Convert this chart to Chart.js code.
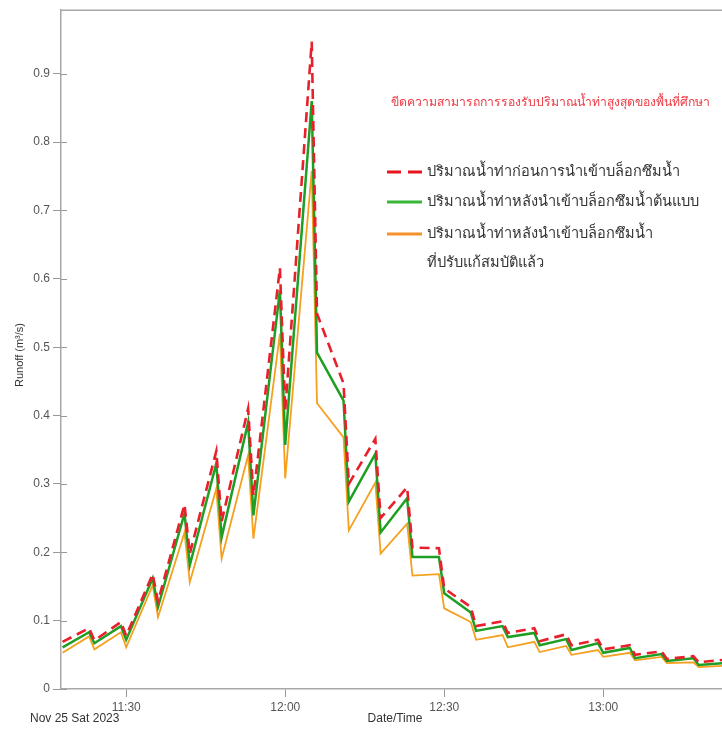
<!DOCTYPE html>
<html>
<head>
<meta charset="utf-8">
<script src="https://cdn.jsdelivr.net/npm/chart.js@4.4.0/dist/chart.umd.min.js"></script>
<style>
  html, body { margin: 0; padding: 0; background: #fff; }
  #wrap { width: 722px; height: 729px; position: relative; }
</style>
</head>
<body>
<div id="wrap"><canvas id="c" width="722" height="729"></canvas></div>
<script>
// Time in minutes relative to 11:30 on Nov 25 2023
const minutes = [-12, -7, -6, -1, 0, 5, 6, 11, 12, 17, 18, 23, 24, 29, 30, 35, 36, 41, 42, 47, 48,
  53, 54, 59, 60, 65, 66, 71, 72, 77, 78, 83, 84, 89, 90, 95, 96, 101, 102, 107, 108, 113];

// Runoff (m3/s) before installing infiltration blocks
const runoffBefore = [0.069, 0.089, 0.071, 0.098, 0.078, 0.168, 0.128, 0.270, 0.198, 0.348, 0.245,
  0.410, 0.283, 0.616, 0.407, 0.947, 0.549, 0.447, 0.300, 0.366, 0.250,
  0.295, 0.207, 0.206, 0.147, 0.120, 0.092, 0.099, 0.082, 0.089, 0.070, 0.080, 0.064,
  0.072, 0.058, 0.064, 0.050, 0.055, 0.044, 0.048, 0.039, 0.043];

// Runoff after installing the prototype infiltration blocks
const runoffPrototype = [0.061, 0.083, 0.067, 0.092, 0.072, 0.162, 0.120, 0.257, 0.181, 0.330, 0.222,
  0.390, 0.254, 0.583, 0.357, 0.860, 0.492, 0.422, 0.274, 0.344, 0.229,
  0.279, 0.193, 0.193, 0.140, 0.112, 0.085, 0.092, 0.076, 0.082, 0.064, 0.073, 0.057,
  0.067, 0.053, 0.060, 0.045, 0.051, 0.041, 0.045, 0.035, 0.038];

// Runoff after installing the improved infiltration blocks
const runoffAdjusted = [0.053, 0.077, 0.058, 0.083, 0.061, 0.152, 0.105, 0.229, 0.156, 0.293, 0.191,
  0.342, 0.220, 0.520, 0.308, 0.758, 0.418, 0.368, 0.232, 0.302, 0.198,
  0.242, 0.166, 0.168, 0.118, 0.098, 0.072, 0.079, 0.061, 0.069, 0.054, 0.063, 0.050,
  0.057, 0.047, 0.053, 0.042, 0.047, 0.038, 0.039, 0.032, 0.034];

const timeTicks = [0, 30, 60, 90];
const runoffTicks = [0, 0.1, 0.2, 0.3, 0.4, 0.5, 0.6, 0.7, 0.8, 0.9];

const seriesLabels = [
  ['ปริมาณน้ำท่าก่อนการนำเข้าบล็อกซึมน้ำ'],
  ['ปริมาณน้ำท่าหลังนำเข้าบล็อกซึมน้ำต้นแบบ'],
  ['ปริมาณน้ำท่าหลังนำเข้าบล็อกซึมน้ำ', 'ที่ปรับแก้สมบัติแล้ว']
];
const capacityNote = 'ขีดความสามารถการรองรับปริมาณน้ำท่าสูงสุดของพื้นที่ศึกษา';
const dateLabel = 'Nov 25 Sat 2023';
const xTitle = 'Date/Time';
const yTitle = 'Runoff (m³/s)';

const COLORS = { before: '#e8202c', proto: '#1f9e24', adjusted: '#f5a01e' };
const KEY_COLORS = { before: '#e8141e', proto: '#37b637', adjusted: '#f5922a' };
const FONT = '"Liberation Sans", Arial, sans-serif';

const toPoints = vals => minutes.map((m, i) => ({ x: m, y: vals[i] }));

function clockLabel(m) {
  const total = 11 * 60 + 30 + m;
  const h = Math.floor(total / 60), mm = total % 60;
  return h + ':' + String(mm).padStart(2, '0');
}

// font size that makes a text span a given width
function fittedSize(ctx, text, width, base) {
  ctx.font = base + 'px ' + FONT;
  return base * width / ctx.measureText(text).width;
}

// Frame line, inner y tick marks, axis titles, note text and the legend
const decorations = {
  id: 'decorations',
  afterDraw(chart) {
    const { ctx, chartArea: a } = chart;
    const yScale = chart.scales.y;
    ctx.save();
    ctx.strokeStyle = '#a8a8a8';
    ctx.lineWidth = 1.5;
    ctx.beginPath();
    ctx.moveTo(a.left, a.top);
    ctx.lineTo(a.right, a.top);
    ctx.stroke();

    ctx.strokeStyle = '#999';
    ctx.lineWidth = 1;
    ctx.beginPath();
    runoffTicks.forEach(v => {
      const py = Math.round(yScale.getPixelForValue(v)) + 0.5;
      ctx.moveTo(a.left, py);
      ctx.lineTo(a.left + 6, py);
    });
    ctx.stroke();

    ctx.fillStyle = '#333';
    ctx.font = '11px ' + FONT;
    ctx.textAlign = 'center';
    ctx.textBaseline = 'middle';
    ctx.save();
    ctx.translate(20, 355);
    ctx.rotate(-Math.PI / 2);
    ctx.fillText(yTitle, 0, 0);
    ctx.restore();

    ctx.font = '12px ' + FONT;
    ctx.fillText(xTitle, 395, 719);
    ctx.textAlign = 'left';
    ctx.fillText(dateLabel, 30, 719);

    ctx.fillStyle = '#ee3a44';
    const noteSize = fittedSize(ctx, capacityNote, 319, 13);
    ctx.font = noteSize.toFixed(2) + 'px ' + FONT;
    ctx.fillText(capacityNote, 391, 103);

    const rows = [
      { color: KEY_COLORS.before, dash: [14, 7], y: 172, lines: seriesLabels[0] },
      { color: KEY_COLORS.proto, dash: [], y: 202, lines: seriesLabels[1] },
      { color: KEY_COLORS.adjusted, dash: [], y: 234, lines: seriesLabels[2] }
    ];
    const keySize = fittedSize(ctx, seriesLabels[0][0], 248, 15);
    ctx.font = keySize.toFixed(2) + 'px ' + FONT;
    rows.forEach(r => {
      ctx.strokeStyle = r.color;
      ctx.lineWidth = 3;
      ctx.setLineDash(r.dash);
      ctx.beginPath();
      ctx.moveTo(387, r.y);
      ctx.lineTo(422, r.y);
      ctx.stroke();
      ctx.setLineDash([]);
      ctx.fillStyle = '#333';
      r.lines.forEach((t, k) => ctx.fillText(t, 427, r.y + k * 29));
    });
    ctx.restore();
  }
};

new Chart(document.getElementById('c'), {
  type: 'line',
  data: {
    datasets: [
      { label: seriesLabels[0].join(' '), data: toPoints(runoffBefore), borderColor: COLORS.before,
        borderWidth: 2.6, borderDash: [10, 6], order: 1 },
      { label: seriesLabels[1].join(' '), data: toPoints(runoffPrototype), borderColor: COLORS.proto,
        borderWidth: 2.5, order: 2 },
      { label: seriesLabels[2].join(' '), data: toPoints(runoffAdjusted), borderColor: COLORS.adjusted,
        borderWidth: 1.8, order: 3 }
    ]
  },
  options: {
    responsive: false,
    animation: false,
    devicePixelRatio: 1,
    layout: { padding: { top: 9, right: 0, left: 0, bottom: 0 } },
    elements: { point: { radius: 0 }, line: { tension: 0, fill: false } },
    plugins: { legend: { display: false }, tooltip: { enabled: false } },
    scales: {
      x: {
        type: 'linear',
        min: -12.3,
        max: 112.4,
        afterBuildTicks: s => { s.ticks = timeTicks.map(v => ({ value: v })); },
        afterFit: s => { s.height = 40; },
        grid: { drawOnChartArea: false, drawTicks: true, tickLength: 8, color: '#999' },
        border: { color: '#a8a8a8', width: 1.5 },
        ticks: { color: '#555', font: { family: FONT, size: 12 }, padding: 3, maxRotation: 0,
          callback: v => clockLabel(v) }
      },
      y: {
        min: 0,
        max: 0.993,
        afterBuildTicks: s => { s.ticks = runoffTicks.map(v => ({ value: v })); },
        afterFit: s => { s.width = 61; },
        grid: { drawOnChartArea: false, drawTicks: true, tickLength: 8, color: '#999' },
        border: { color: '#a8a8a8', width: 1.5 },
        ticks: { color: '#555', font: { family: FONT, size: 12 }, padding: 3,
          callback: v => (v === 0 ? '0' : v.toFixed(1)) }
      }
    }
  },
  plugins: [decorations]
});
</script>
</body>
</html>
